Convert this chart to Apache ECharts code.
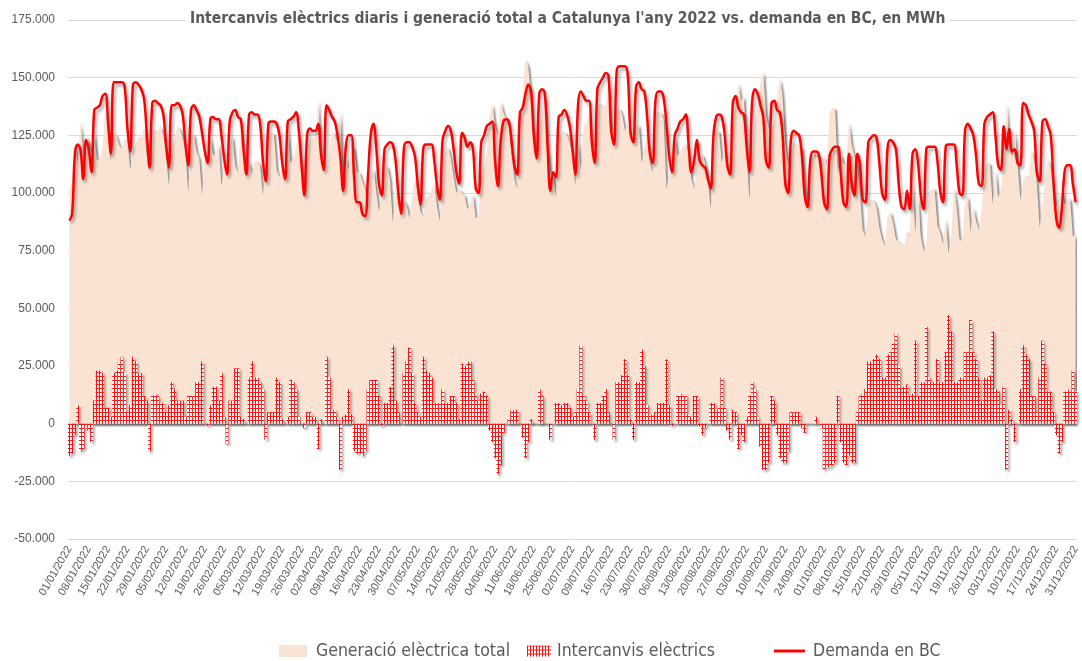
<!DOCTYPE html>
<html><head><meta charset="utf-8">
<script src="https://cdn.jsdelivr.net/npm/echarts/dist/echarts.min.js"></script>
<style>html,body{margin:0;padding:0;background:#fff}#c{width:1082px;height:661px}</style>
</head><body><div id="c"></div>
<script>
// Values in thousands of MWh (axis shows them as "175.000" etc.)
const demand = [
88,91,117,121,119,106,123,119,109,136,
137,138,142,143,131,117,148,148,148,148,
146,128,118,147,148,147,145,141,126,111,
139,140,139,138,134,121,111,138,138,139,
138,134,121,112,136,138,136,133,126,118,
113,132,133,132,132,125,115,108,131,135,
136,133,132,119,108,134,135,134,134,130,
114,105,130,131,131,130,125,113,106,131,
132,133,135,127,112,99,125,128,127,127,
130,117,110,138,136,133,131,125,116,101,
120,125,125,107,96,96,91,90,107,125,
130,120,104,99,119,121,122,121,114,100,
91,119,122,122,120,116,104,95,119,121,
121,121,114,103,97,123,127,129,127,119,
109,104,126,124,120,122,119,102,100,122,
125,129,130,131,114,103,122,131,132,131,
122,112,108,135,137,143,147,144,125,115,
143,145,143,120,101,109,107,133,134,136,
134,129,119,108,138,144,142,140,140,122,
113,145,148,150,152,151,127,121,153,155,
155,155,151,126,122,146,148,145,144,133,
117,113,140,144,144,141,130,116,109,125,
128,131,132,134,121,109,114,123,114,112,
111,106,102,125,133,134,133,126,112,108,
139,142,137,135,134,120,109,140,145,143,
138,133,114,111,139,140,136,135,125,104,
100,123,127,126,125,116,99,94,114,118,
118,117,109,96,93,116,119,120,120,109,
96,94,117,104,99,117,112,97,96,122,
124,125,124,113,100,97,120,123,122,119,
104,94,93,101,93,117,119,113,99,93,
119,120,120,120,114,101,96,120,121,121,
121,112,100,99,127,130,128,125,116,104,
103,130,133,134,135,125,112,110,129,119,
128,118,119,113,112,139,138,134,131,127,
109,105,131,132,129,125,105,89,85,93,
109,112,112,104,96];

const exchange = [
-14,-13,-5,8,-12,-11,-2,-3,-8,10,
23,23,22,7,7,3,22,23,27,29,
22,5,8,29,27,22,22,12,10,-12,
12,13,12,9,9,5,8,18,15,10,
10,10,3,12,12,12,18,18,27,0,
-1,8,16,16,10,22,3,-9,10,10,
24,24,3,2,0,20,27,20,20,18,
15,-7,5,5,5,20,18,2,0,3,
19,18,15,3,1,-2,5,5,3,3,
-11,2,0,29,20,6,6,3,-20,3,
4,15,4,-12,-13,-13,-14,-12,15,19,
19,19,12,-1,9,9,16,34,10,5,
0,22,27,33,22,9,5,3,29,23,
22,20,9,9,9,15,9,9,12,12,
9,2,26,25,27,27,19,13,10,13,
14,12,-3,-8,-15,-22,-18,-4,0,2,
6,6,6,0,-6,-15,-8,2,0,0,
15,12,0,0,-7,0,9,9,8,9,
9,7,3,5,15,34,13,10,5,0,
-7,9,9,12,15,5,0,-7,18,18,
21,28,21,2,-7,18,18,32,25,8,
4,4,5,9,9,9,28,8,-1,0,
12,13,12,12,4,3,12,12,-1,-5,
-2,0,9,9,6,7,20,7,-3,-7,
6,5,-11,-5,-8,3,12,18,15,3,
-10,-20,-20,-17,12,10,-5,-15,-17,-17,
-12,5,5,5,5,-2,-4,0,0,0,
3,0,-2,-20,-19,-19,-18,-17,12,-8,
-17,-18,-14,-17,-17,5,12,13,15,27,
27,28,30,28,20,20,30,31,35,39,
25,16,16,17,12,13,36,12,18,18,
42,20,18,18,28,18,18,31,47,40,
18,18,20,20,31,31,45,31,28,20,
10,20,20,21,40,15,14,8,16,-20,
6,2,-8,0,15,34,30,28,12,12,
5,20,36,26,14,14,5,-5,-13,-8,
14,15,14,23,14];

const generation = [
102,104,122,113,131,117,125,122,117,126,
114,115,120,136,124,114,126,125,121,119,
124,123,110,118,121,125,123,129,116,123,
127,127,127,129,125,116,103,120,123,129,
128,124,118,100,124,126,118,115,99,118,
114,124,117,116,122,103,112,117,121,125,
112,109,129,117,108,114,108,114,114,112,
99,112,125,126,126,110,107,111,106,128,
113,115,120,124,111,101,120,123,124,124,
141,115,110,109,116,127,125,122,136,98,
116,110,121,119,109,109,105,102,92,106,
111,101,92,100,110,112,106,87,104,95,
91,97,95,89,98,107,99,92,90,98,
99,101,105,94,88,108,118,120,115,107,
100,102,100,99,93,95,100,89,90,109,
111,117,133,139,129,125,140,135,132,129,
116,106,102,135,143,158,155,142,125,115,
128,133,143,120,108,109,98,124,126,127,
125,122,116,103,123,110,129,130,135,122,
120,136,139,138,137,146,127,128,135,137,
134,127,130,124,129,128,130,113,119,125,
113,109,135,135,135,132,102,108,110,125,
116,118,120,122,117,106,102,111,115,117,
113,106,93,116,127,127,113,119,115,115,
133,137,148,140,142,117,97,122,130,140,
148,153,134,128,127,130,141,150,142,121,
112,118,122,121,120,118,103,94,114,118,
115,117,111,116,112,135,137,137,108,117,
113,112,131,121,116,112,100,84,81,95,
97,97,94,85,80,77,90,92,87,80,
79,78,77,84,81,104,83,101,81,75,
77,100,102,102,86,83,78,89,74,81,
103,94,80,79,96,99,83,94,88,84,
93,110,113,113,95,110,98,102,113,139,
122,116,127,113,97,105,108,106,119,115,
104,85,95,106,115,111,100,94,98,101,
95,97,98,81,82];

const seriesNames = ['Generació elèctrica total', 'Intercanvis elèctrics', 'Demanda en BC'];
const titleText = "Intercanvis elèctrics diaris i generació total a Catalunya l'any 2022 vs. demanda en BC, en MWh";
const yTicks = { min: -50, max: 175, step: 25 };

// Category labels: every day of 2022 as dd/mm/2022
const categories = [];
for (let i = 0; i < 365; i++) {
  const d = new Date(Date.UTC(2022, 0, 1 + i));
  categories.push(String(d.getUTCDate()).padStart(2, '0') + '/' + String(d.getUTCMonth() + 1).padStart(2, '0') + '/2022');
}

function hatchCanvas() {
  const c = document.createElement('canvas');
  c.width = 3; c.height = 4;
  const g = c.getContext('2d');
  g.fillStyle = '#ffffff'; g.fillRect(0, 0, 3, 4);
  g.fillStyle = '#ff1010';
  g.fillRect(0, 0, 1, 4);
  g.fillRect(0, 0, 3, 1);
  return c;
}
const hatch = { image: hatchCanvas(), repeat: 'repeat' };

const NARROW = "'Liberation Sans Narrow','DejaVu Sans Condensed','Roboto Condensed','Liberation Sans',sans-serif";
const TXT = '#595959';

function legendAt(name, left, w, h, pad) {
  return {
    top: 637, left: left, itemWidth: w, itemHeight: h, symbolKeepAspect: true,
    textStyle: { fontFamily: NARROW, fontSize: 17.5, color: TXT, padding: [0, 0, 0, pad] },
    data: [name]
  };
}

const chart = echarts.init(document.getElementById('c'), null, { renderer: 'canvas' });
chart.setOption({
  backgroundColor: '#ffffff',
  animation: false,
  title: {
    text: titleText, left: 186, top: 10,
    backgroundColor: '#ffffff', padding: [1, 4],
    textStyle: { fontFamily: NARROW, fontSize: 15.5, fontWeight: 'bold', color: TXT }
  },
  legend: [
    legendAt({ name: seriesNames[0], icon: 'rect', itemStyle: { color: '#fbe3d4' } }, 274, 28, 12, 4),
    legendAt({ name: seriesNames[1], icon: 'rect' }, 522, 24, 11, 1),
    legendAt({ name: seriesNames[2], icon: 'path://M0,0H32V3H0Z', itemStyle: { color: '#ff0000' } }, 769, 31, 12, 3)
  ],
  grid: { left: 68, right: 5, top: 20, bottom: 122 },
  xAxis: {
    type: 'category', data: categories, boundaryGap: true,
    axisLine: { show: false, onZero: false }, axisTick: { show: false },
    axisLabel: { interval: 6, rotate: 60, fontSize: 11, color: TXT, margin: 8, fontFamily: "'Liberation Sans',Arial,sans-serif" },
    splitLine: { show: false }
  },
  yAxis: {
    type: 'value', min: yTicks.min, max: yTicks.max, interval: yTicks.step,
    axisLine: { show: false }, axisTick: { show: false },
    axisLabel: { fontSize: 12, color: TXT, margin: 13, fontFamily: "'Liberation Sans',Arial,sans-serif",
      formatter: v => v === 0 ? '0' : v + '.000' },
    splitLine: { lineStyle: { color: '#d9d9d9', width: 1 } }
  },
  series: [
    {
      name: seriesNames[0], type: 'line', data: generation, symbol: 'none', z: 1,
      lineStyle: { width: 0 },
      itemStyle: { color: '#fbe3d4' },
      areaStyle: { color: '#fbe3d4', opacity: 1, origin: 'auto',
        shadowColor: 'rgba(0,0,0,0.45)', shadowBlur: 2, shadowOffsetX: 2, shadowOffsetY: 2 }
    },
    {
      name: seriesNames[1], type: 'bar', data: exchange, barCategoryGap: '0%', z: 2,
      itemStyle: { color: hatch, shadowColor: 'rgba(0,0,0,0.3)', shadowBlur: 2, shadowOffsetX: 2, shadowOffsetY: 2 }
    },
    {
      name: seriesNames[2], type: 'line', data: demand, symbol: 'none', smooth: 0.4, z: 3,
      itemStyle: { color: '#ff0000' },
      lineStyle: { color: '#ff0000', width: 2.5,
        shadowColor: 'rgba(0,0,0,0.35)', shadowBlur: 3, shadowOffsetX: 2, shadowOffsetY: 3 }
    }
  ]
});
</script>
</body></html>
